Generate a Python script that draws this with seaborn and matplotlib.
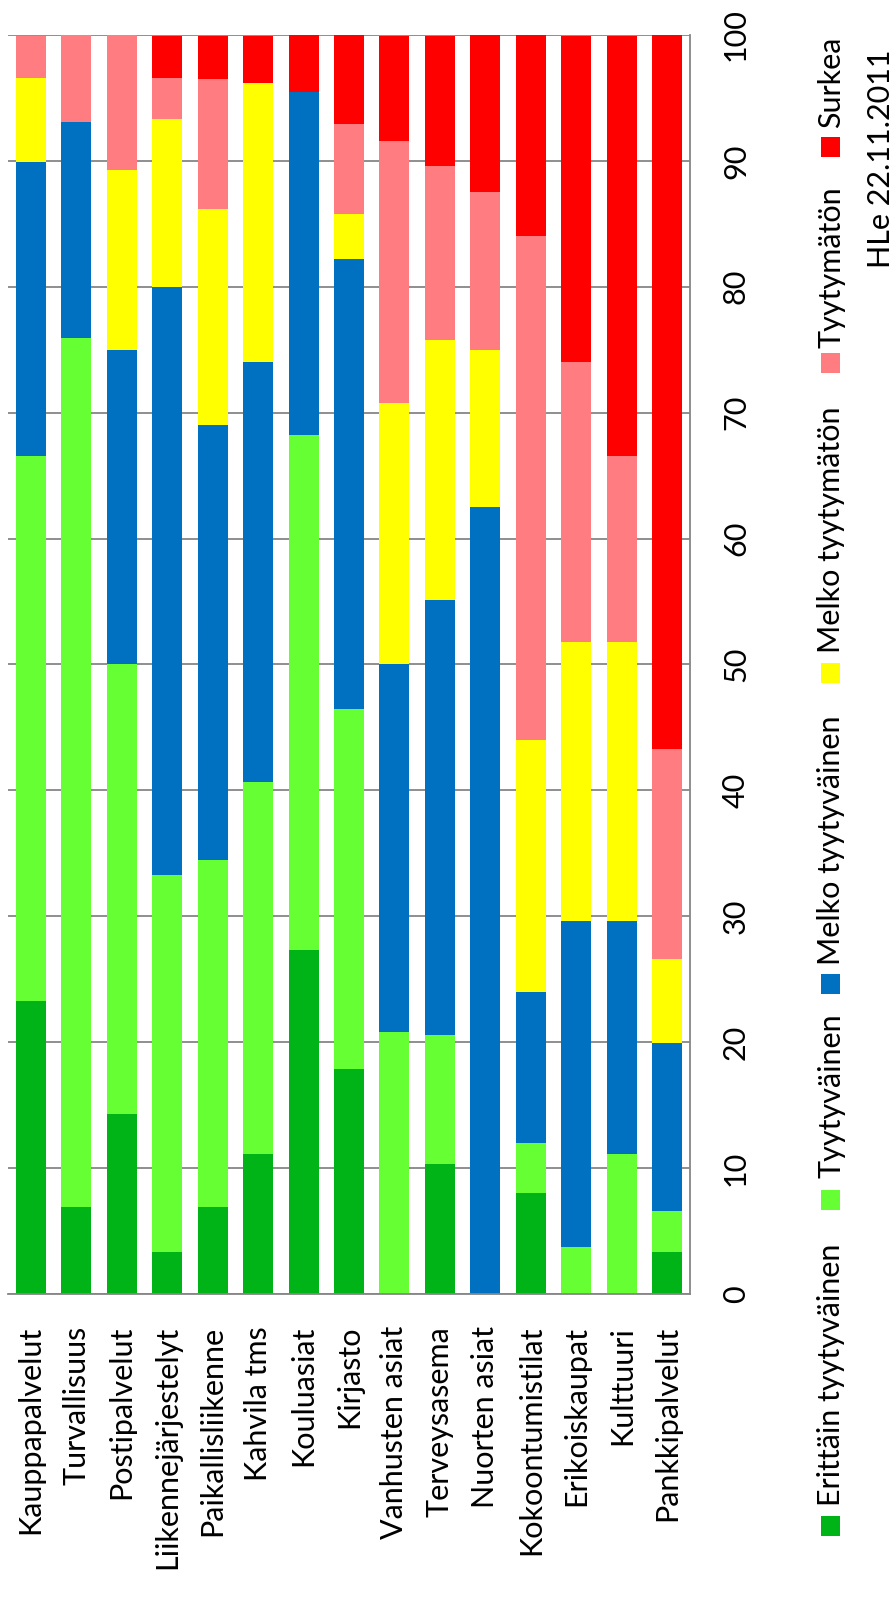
import numpy as np
import matplotlib
matplotlib.use("Agg")
import matplotlib.pyplot as plt
import seaborn as sns
from matplotlib.patches import Rectangle

# ---------------- data ----------------
categories = ["Kauppapalvelut", "Turvallisuus", "Postipalvelut", "Liikennejärjestelyt",
              "Paikallisliikenne", "Kahvila tms", "Kouluasiat", "Kirjasto",
              "Vanhusten asiat", "Terveysasema", "Nuorten asiat", "Kokoontumistilat",
              "Erikoiskaupat", "Kulttuuri", "Pankkipalvelut"]
levels = ["Erittäin tyytyväinen", "Tyytyväinen", "Melko tyytyväinen",
          "Melko tyytymätön", "Tyytymätön", "Surkea"]
erittain_tyytyvainen = [23.3, 6.9, 14.3, 3.3, 6.9, 11.1, 27.3, 17.9, 0.0, 10.3, 0.0, 8.0, 0.0, 0.0, 3.3]
tyytyvainen          = [43.3, 69.0, 35.7, 30.0, 27.6, 29.6, 40.9, 28.6, 20.8, 10.3, 0.0, 4.0, 3.7, 11.1, 3.3]
melko_tyytyvainen    = [23.3, 17.2, 25.0, 46.7, 34.5, 33.3, 27.3, 35.7, 29.2, 34.5, 62.5, 12.0, 25.9, 18.5, 13.3]
melko_tyytymaton     = [6.7, 0.0, 14.3, 13.3, 17.2, 22.2, 0.0, 3.6, 20.8, 20.7, 12.5, 20.0, 22.2, 22.2, 6.7]
tyytymaton           = [3.3, 6.9, 10.7, 3.3, 10.3, 0.0, 0.0, 7.1, 20.8, 13.8, 12.5, 40.0, 22.2, 14.8, 16.7]
surkea               = [0.0, 0.0, 0.0, 3.3, 3.4, 3.7, 4.5, 7.1, 8.3, 10.3, 12.5, 16.0, 25.9, 33.3, 56.7]
value_ticks = [0, 10, 20, 30, 40, 50, 60, 70, 80, 90, 100]
note = "HLe 22.11.2011"

colors = ["#00B418", "#66FF33", "#0070C0", "#FFFF00", "#FF7C80", "#FF0000"]
grid_color = "#868686"

# ---------------- figure ----------------
sns.set_theme(style="white")
plt.rcParams['font.family'] = ['Lato', 'DejaVu Sans']
FS = 22

W, H = 896, 1601
fig = plt.figure(figsize=(W / 100, H / 100), dpi=100)
fig.patch.set_facecolor("white")

def fx(px):
    return px / W

def fy(py):
    return 1 - py / H

ax = fig.add_axes([fx(8), fy(1294), (690 - 8) / W, (1294 - 35) / H])
ax.set_facecolor("white")

series = [erittain_tyytyvainen, tyytyvainen, melko_tyytyvainen,
          melko_tyytymaton, tyytymaton, surkea]
cum = np.cumsum(np.array(series, dtype=float), axis=0)

for i in reversed(range(len(series))):
    sns.barplot(x=categories, y=cum[i], order=categories, color=colors[i],
                width=0.66, saturation=1, linewidth=0, errorbar=None, ax=ax)

ax.set_ylim(0, 100)
ax.set_xlim(-0.5, len(categories) - 0.5)
ax.set_yticks(value_ticks)
ax.set_yticklabels([str(v) for v in value_ticks])
ax.yaxis.tick_right()
ax.set_axisbelow(True)
ax.yaxis.grid(True, color=grid_color, linewidth=1.3)
ax.xaxis.grid(False)
ax.set_xlabel("")
ax.set_ylabel("")

for side in ["left", "top"]:
    ax.spines[side].set_visible(False)
for side in ["right", "bottom"]:
    ax.spines[side].set_visible(True)
    ax.spines[side].set_color(grid_color)
    ax.spines[side].set_linewidth(1.3)

ax.tick_params(axis="y", which="both", length=0, pad=23, labelsize=FS,
               labelrotation=90, colors="black", right=True, left=False,
               labelright=True, labelleft=False)
ax.tick_params(axis="x", which="both", length=0, pad=23, labelsize=FS,
               labelrotation=90, colors="black")
for lab in ax.get_yticklabels():
    lab.set_verticalalignment("center")
    lab.set_horizontalalignment("left")

# ---------------- legend (rotated, drawn manually) ----------------
sq_bottom = [1536, 1210, 994, 683, 373, 157]   # pixel y of square bottoms
txt_start = [1506, 1178, 965, 653, 348, 128]   # pixel y where text begins
for lab, col, sb, ts in zip(levels, colors, sq_bottom, txt_start):
    fig.add_artist(Rectangle((fx(821), fy(sb)), 19 / W, 20 / H,
                             transform=fig.transFigure, facecolor=col,
                             edgecolor="none"))
    fig.text(fx(840), fy(ts), lab, rotation=90, rotation_mode="anchor",
             ha="left", va="baseline", fontsize=FS, color="black")

fig.text(fx(890), fy(268), note, rotation=90, rotation_mode="anchor",
         ha="left", va="baseline", fontsize=FS, color="black")

fig.savefig("out.png", dpi=100, facecolor="white")
